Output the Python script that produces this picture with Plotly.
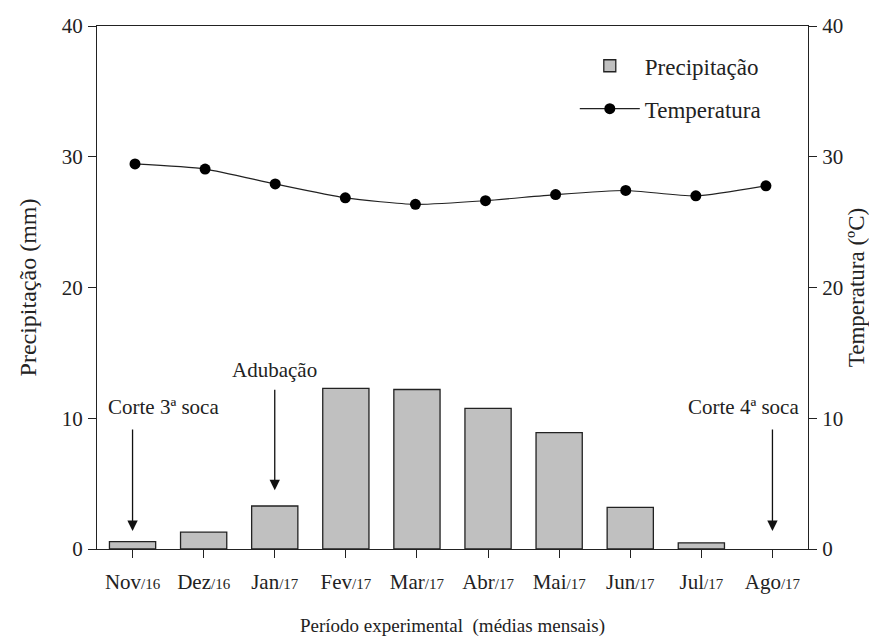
import plotly.graph_objects as go

months = ["Nov", "Dez", "Jan", "Fev", "Mar", "Abr", "Mai", "Jun", "Jul", "Ago"]
years = ["/16", "/16", "/17", "/17", "/17", "/17", "/17", "/17", "/17", "/17"]
precip = [0.56, 1.29, 3.29, 12.28, 12.2, 10.76, 8.9, 3.19, 0.47, None]
temp = [29.45, 29.06, 27.92, 26.86, 26.36, 26.64, 27.11, 27.42, 27.01, 27.78]
y_ticks = [0, 10, 20, 30, 40]

idx = list(range(len(months)))
ticktext = [f"{m}<span style='font-size:15px'>{y}</span>" for m, y in zip(months, years)]

FONT = "Liberation Serif"
INK = "#222222"

fig = go.Figure()
fig.add_trace(go.Bar(
    x=idx, y=precip, name="Precipitação", width=0.65, legendgroup="p",
    marker=dict(color="#c0c0c0", line=dict(color=INK, width=1.3)),
    xaxis="x", yaxis="y",
))
fig.add_trace(go.Scatter(
    x=idx, y=temp, name="Temperatura", mode="lines+markers", legendgroup="t",
    line=dict(color=INK, width=1.2, shape="spline", smoothing=0.6),
    marker=dict(color="black", size=11),
    xaxis="x2", yaxis="y2",
))

axis_common = dict(showline=True, linecolor=INK, linewidth=1.3, ticks="outside",
                   ticklen=8, tickcolor=INK, showgrid=False, zeroline=False, automargin=False,
                   tickfont=dict(family=FONT, size=21, color=INK))

fig.update_layout(
    width=869, height=637,
    margin=dict(l=97, r=61, t=26, b=88),
    paper_bgcolor="white", plot_bgcolor="white",
    font=dict(family=FONT, color=INK),
    showlegend=True,
    xaxis=dict(range=[-0.5, 9.5], tickvals=idx, ticktext=ticktext, mirror=True,
               ticklabelstandoff=6,
               title=dict(text="Período experimental  (médias mensais)",
                          font=dict(family=FONT, size=19, color=INK), standoff=28),
               **axis_common),
    xaxis2=dict(range=[-0.542, 9.60], overlaying="x", visible=False),
    yaxis=dict(range=[0, 40], tickvals=y_ticks, ticklabelstandoff=1,
               title=dict(text="Precipitação (mm)", font=dict(family=FONT, size=24, color=INK),
                          standoff=18),
               **axis_common),
    yaxis2=dict(range=[0, 40], tickvals=y_ticks, overlaying="y", side="right", anchor="x",
                ticklabelstandoff=1,
                title=dict(text="Temperatura (ºC)", font=dict(family=FONT, size=23, color=INK),
                           standoff=10),
                **axis_common),
    legend=dict(x=0.672, y=0.965, xanchor="left", yanchor="top", bgcolor="rgba(0,0,0,0)",
                font=dict(family=FONT, size=23, color=INK), tracegroupgap=10,
                itemwidth=60),
)

arrows = [(0, 1.38, 9.25), (2, 4.5, 12.3), (9, 1.38, 9.25)]
for xi, tip, tail in arrows:
    fig.add_annotation(x=xi, y=tip, ax=xi, ay=tail, xref="x", yref="y", axref="x", ayref="y",
                       text="", showarrow=True, arrowhead=2, arrowsize=1.6, arrowwidth=1.3,
                       arrowcolor="#111111")

labels = [(0.44, 10.86, "Corte 3ª soca"), (2.0, 13.7, "Adubação"), (8.59, 10.86, "Corte 4ª soca")]
for xi, yv, txt in labels:
    fig.add_annotation(x=xi, y=yv, xref="x", yref="y", text=txt, showarrow=False,
                       font=dict(family=FONT, size=21, color=INK))

fig.write_html("out.html")
